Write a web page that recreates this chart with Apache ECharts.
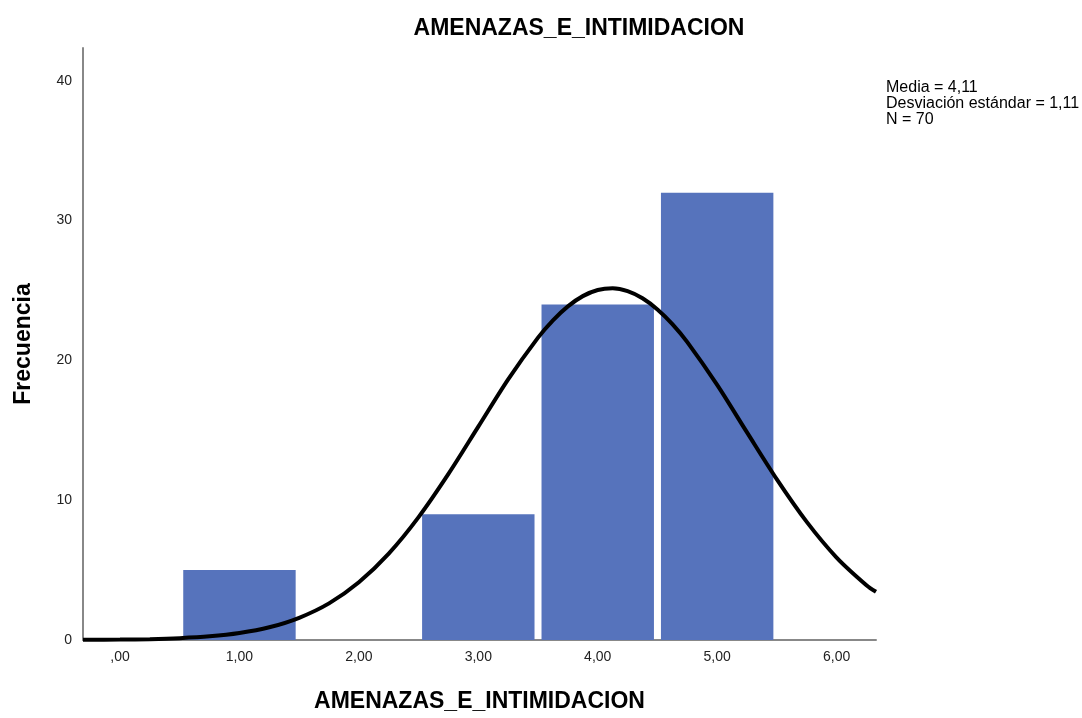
<!DOCTYPE html>
<html>
<head>
<meta charset="utf-8">
<script src="https://cdn.jsdelivr.net/npm/echarts@6/dist/echarts.min.js"></script>
<style>
html,body{margin:0;padding:0;background:#fff;}
#c{width:1082px;height:718px;}
</style>
</head>
<body>
<div id="c"></div>
<script>
const chartTitle = 'AMENAZAS_E_INTIMIDACION';
const xAxisTitle = 'AMENAZAS_E_INTIMIDACION';
const yAxisTitle = 'Frecuencia';
const statsLines = ['Media = 4,11', 'Desviación estándar = 1,11', 'N = 70'];

const binCenters = [1, 3, 4, 5];
const frequencies = [5, 9, 24, 32];

const curveX = [-0.31, 0, 0.25, 0.5, 0.75, 1.0, 1.25, 1.5, 1.75, 2.0, 2.25, 2.5, 2.75, 3.0, 3.25, 3.5, 3.625, 3.75, 3.875, 4.0, 4.125, 4.25, 4.375, 4.5, 4.625, 4.75, 5.0, 5.25, 5.5, 5.75, 6.0, 6.25, 6.33];
const curveY = [0.01, 0.03, 0.06, 0.13, 0.26, 0.50, 0.91, 1.59, 2.62, 4.13, 6.18, 8.79, 11.88, 15.26, 18.64, 21.63, 22.87, 23.87, 24.60, 25.04, 25.16, 24.96, 24.45, 23.65, 22.60, 21.31, 18.25, 14.85, 11.49, 8.45, 5.90, 3.92, 3.45];

const xTickValues = [0, 1, 2, 3, 4, 5, 6];
const xTickLabels = [',00', '1,00', '2,00', '3,00', '4,00', '5,00', '6,00'];
const yTickValues = [0, 10, 20, 30, 40];
const yTickLabels = ['0', '10', '20', '30', '40'];

const barData = binCenters.map((c, i) => [c, frequencies[i]]);
const curveData = curveX.map((x, i) => [x, curveY[i]]);

const chart = echarts.init(document.getElementById('c'), null, {renderer: 'canvas'});
const FONT = 'Liberation Sans, Arial, sans-serif';
chart.setOption({
  backgroundColor: '#ffffff',
  animation: false,
  grid: {left: 83, right: 206, top: 48, bottom: 73, containLabel: false},
  xAxis: {
    type: 'value', min: -0.31, max: 6.33,
    name: xAxisTitle, nameLocation: 'middle', nameGap: 50,
    nameTextStyle: {fontFamily: FONT, fontSize: 23, fontWeight: 'bold', color: '#000'},
    axisLine: {show: true, onZero: false, lineStyle: {color: '#888', width: 2}},
    axisTick: {show: false},
    splitLine: {show: false},
    axisLabel: {
      customValues: xTickValues,
      formatter: v => { const i = xTickValues.indexOf(Math.round(v)); return i >= 0 ? xTickLabels[i] : ''; },
      fontFamily: FONT, fontSize: 14, color: '#222', margin: 10
    }
  },
  yAxis: {
    type: 'value', min: 0, max: 42.35,
    name: yAxisTitle, nameLocation: 'middle', nameGap: 48, nameRotate: 90,
    nameTextStyle: {fontFamily: FONT, fontSize: 23, fontWeight: 'bold', color: '#000'},
    axisLine: {show: true, onZero: false, lineStyle: {color: '#888', width: 2}},
    axisTick: {show: false},
    splitLine: {show: false},
    axisLabel: {
      customValues: yTickValues,
      formatter: v => { const i = yTickValues.indexOf(Math.round(v)); return i >= 0 ? yTickLabels[i] : ''; },
      fontFamily: FONT, fontSize: 14, color: '#222', margin: 11
    }
  },
  graphic: [
    {type: 'text', x: 579, y: 17, style: {text: chartTitle, font: 'bold 23px ' + FONT, fill: '#000', align: 'center', verticalAlign: 'top'}, silent: true},
    {type: 'text', x: 886, y: 80, style: {text: statsLines.join('\n'), font: '16px ' + FONT, lineHeight: 16, fill: '#000', verticalAlign: 'top'}, silent: true}
  ],
  series: [
    {
      type: 'custom',
      data: barData,
      z: 2,
      renderItem: function (params, api) {
        const c = api.value(0), v = api.value(1);
        const pTop = api.coord([c - 0.5, v]);
        const pBot = api.coord([c + 0.5, 0]);
        const inset = 3.5;
        return {
          type: 'rect',
          shape: {x: pTop[0] + inset, y: pTop[1], width: pBot[0] - pTop[0] - 2 * inset, height: pBot[1] - pTop[1]},
          style: {fill: '#5673BC'}
        };
      }
    },
    {
      type: 'line', data: curveData, smooth: 0.3, showSymbol: false, symbol: 'none', z: 5,
      lineStyle: {color: '#000', width: 4}
    }
  ]
});
</script>
</body>
</html>
